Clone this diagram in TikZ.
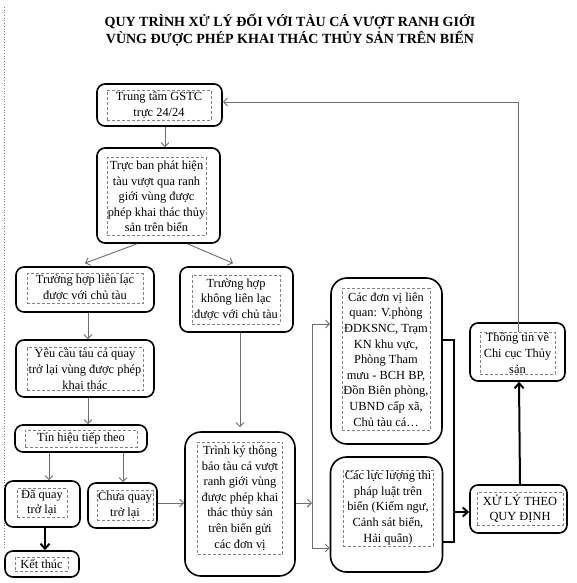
\documentclass[tikz,border=0pt]{standalone}
\usepackage{fontspec}
\setmainfont{Liberation Serif}
\usetikzlibrary{arrows.meta,calc}
\tikzset{
  outerbox/.style={draw=black, line width=1.6pt, rounded corners=8pt, inner sep=0pt},
  bigbox/.style={outerbox, rounded corners=16pt},
  innerbox/.style={draw=gray, densely dashed, line width=0.5pt, inner sep=1pt, align=center,
    font=\fontsize{12.4}{15.6}\selectfont},
  thinline/.style={draw=gray!85!black, line width=0.9pt},
  thinarrow/.style={thinline, -{Straight Barb[length=4pt,width=8pt]}},
  thickline/.style={draw=black, line width=2pt},
  thickarrow/.style={thickline, -{Straight Barb[length=5pt,width=9pt]}},
  titlestyle/.style={font=\bfseries\fontsize{14}{17}\selectfont, align=center, inner sep=0pt}
}
\begin{document}
\begin{tikzpicture}[x=1pt,y=-1pt]
\useasboundingbox (0,0) rectangle (576,583);
\draw[gray, dotted, line width=0.7pt] (4,7) -- (4,548);

\node[titlestyle] (title) at (290,30.5) {QUY TRÌNH XỬ LÝ ĐỐI VỚI TÀU CÁ VƯỢT RANH GIỚI\\VÙNG ĐƯỢC PHÉP KHAI THÁC THỦY SẢN TRÊN BIỂN};

% boxes
\node[outerbox, minimum width=125, minimum height=42] (b1) at (159.5,105) {};
\node[innerbox, minimum width=104, minimum height=30] (b1t) at (159,105.5) {Trung tâm GSTC\\trực 24/24};

\node[outerbox, minimum width=123, minimum height=95] (b2) at (158.5,195.5) {};
\node[innerbox, minimum width=99, minimum height=78] (b2t) at (156.5,196.5) {Trực ban phát hiện\\tàu vượt qua ranh\\giới vùng được\\phép khai thác thủy\\sản trên biển};

\node[outerbox, minimum width=138, minimum height=45] (b3) at (85,289.5) {};
\node[innerbox, minimum width=116, minimum height=30] (b3t) at (85,288.5) {Trường hợp liên lạc\\được với chủ tàu};

\node[outerbox, minimum width=113, minimum height=65] (b4) at (236.5,299.5) {};
\node[innerbox, minimum width=88, minimum height=49] (b4t) at (236,299.5) {Trường hợp\\không liên lạc\\được với chủ tàu};

\node[outerbox, minimum width=138, minimum height=57] (b5) at (85,368.5) {};
\node[innerbox, minimum width=116, minimum height=43] (b5t) at (85,369) {Yêu cầu tàu cá quay\\trở lại vùng được phép\\khai thác};

\node[outerbox, minimum width=132, minimum height=27] (b6) at (81,438.5) {};
\node[innerbox, minimum width=112, minimum height=17] (b6t) at (81,438.5) {Tín hiệu tiếp theo};

\node[outerbox, minimum width=75, minimum height=46] (b7) at (42.5,504) {};
\node[innerbox, minimum width=50, minimum height=29] (b7t) at (42,503) {Đã quay\\trở lại};

\node[outerbox, minimum width=69, minimum height=45] (b8) at (122.5,505.5) {};
\node[innerbox, minimum width=54, minimum height=30] (b8t) at (125,505.5) {Chưa quay\\trở lại};

\node[outerbox, minimum width=74, minimum height=26] (b9) at (42,564) {};
\node[innerbox, minimum width=53, minimum height=14] (b9t) at (41.5,564) {Kết thúc};

\node[bigbox, minimum width=110, minimum height=144] (b10) at (240,504) {};
\node[innerbox, minimum width=85, minimum height=112] (b10t) at (240,498) {Trình ký thông\\báo tàu cá vượt\\ranh giới vùng\\được phép khai\\thác thủy sản\\trên biển gửi\\các đơn vị};

\node[bigbox, minimum width=111, minimum height=166] (b11) at (386.5,361) {};
\node[innerbox, minimum width=88, minimum height=142] (b11t) at (386,359.5) {Các đơn vị liên\\quan: V.phòng\\ĐDKSNC, Trạm\\KN khu vực,\\Phòng Tham\\mưu - BCH BP,\\Đồn Biên phòng,\\UBND cấp xã,\\Chủ tàu cá…};

\node[bigbox, minimum width=112, minimum height=115] (b12) at (386.5,514.5) {};
\node[innerbox, minimum width=90, minimum height=75] (b12t) at (388,508) {Các lực lượng thi\\pháp luật trên\\biển (Kiểm ngư,\\Cảnh sát biển,\\Hải quân)};

\node[outerbox, minimum width=97, minimum height=48] (b13) at (518.5,509) {};
\node[innerbox, minimum width=86, minimum height=33] (b13t) at (520,508.5) {XỬ LÝ THEO\\QUY ĐỊNH};

\node[outerbox, minimum width=95, minimum height=58] (b14) at (517.5,352) {};
\node[innerbox, minimum width=75, minimum height=41] (b14t) at (517.5,353) {Thông tin về\\Chi cục Thủy\\sản};

% connectors
\draw[thinarrow] ($(b1.south)+(5.5,0)$) -- ($(b2.north)+(6.5,0)$);
\draw[thinarrow] ($(b2.south)+(-21.5,0)$) -- ($(b3.north)+(0,-3)$);
\draw[thinarrow] ($(b2.south)+(29,0)$) -- ($(b4.north)+(-3.5,-3)$);
\draw[thinarrow] ($(b3.south)+(3,0)$) -- ($(b5.north)+(3,0)$);
\draw[thinarrow] ($(b5.south)+(3,0)$) -- ($(b6.north)+(7,0)$);
\draw[thinarrow] ($(b6.south)+(-32,0)$) -- ($(b7.north)+(6.5,0)$);
\draw[thinarrow] ($(b6.south)+(42,0)$) -- ($(b8.north)+(0.5,0)$);
\draw[thickarrow] ($(b7.south)+(2.5,0)$) -- ($(b9.north)+(3,0)$);
\draw[thinarrow] ($(b8.east)+(0,-2.5)$) -- ($(b10.west)+(0,-1)$);
\draw[thinarrow] ($(b4.south)+(3.5,0)$) -- ($(b10.north)+(0,-4)$);

\coordinate (j) at (312,503);
\coordinate (jt) at (312,324);
\coordinate (jb) at (312,548);
\draw[thinarrow] ($(b10.east)+(0,-1)$) -- (j);
\draw[thinline] (jt) -- (jb);
\draw[thinarrow] (jt) -- (jt -| b11.west);
\draw[thinarrow] (jb) -- (jb -| b12.west);

\coordinate (k1) at (454,340);
\coordinate (k2) at (454,542);
\coordinate (k3) at (454,512);
\draw[thickline] (k1 -| b11.east) -- (k1) -- (k2) -- (k2 -| b12.east);
\draw[thickarrow] (k3) -- (k3 -| b13.west);
\draw[thickarrow] ($(b13.north)+(1.5,0)$) -- ($(b14.south)+(1.5,0)$);

\coordinate (c) at (518.5,102);
\draw[thinarrow] (b14t.north -| c) -- (c) -- (c -| b1.east);
\end{tikzpicture}
\end{document}
